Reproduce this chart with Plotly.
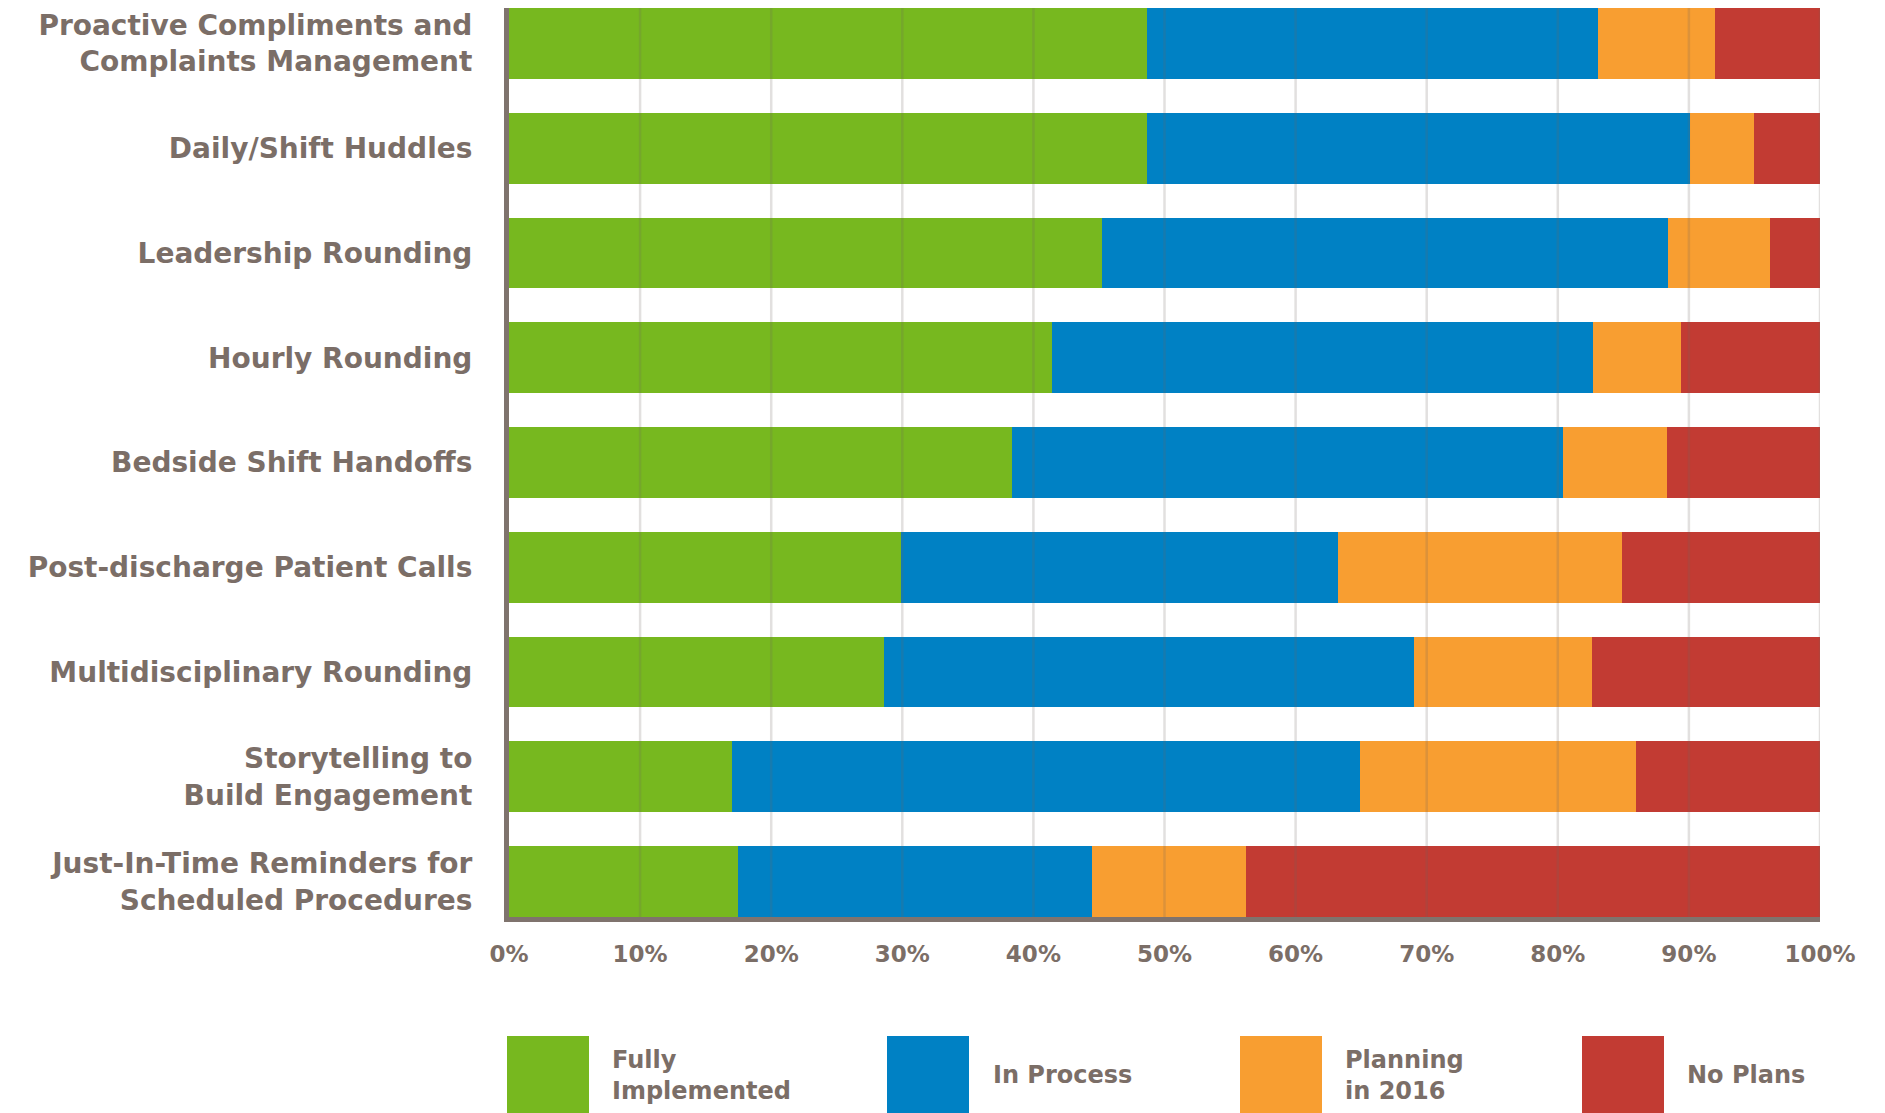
import plotly.graph_objects as go

categories = [
    "Proactive Compliments and<br>Complaints Management",
    "Daily/Shift Huddles",
    "Leadership Rounding",
    "Hourly Rounding",
    "Bedside Shift Handoffs",
    "Post-discharge Patient Calls",
    "Multidisciplinary Rounding",
    "Storytelling to<br>Build Engagement",
    "Just-In-Time Reminders for<br>Scheduled Procedures",
]
fully_implemented = [48.7, 48.7, 45.2, 41.4, 38.4, 29.9, 28.6, 17.0, 17.5]
in_process = [34.4, 41.4, 43.2, 41.3, 42.0, 33.3, 40.4, 47.9, 27.0]
planning_2016 = [8.9, 4.9, 7.8, 6.7, 7.9, 21.7, 13.6, 21.1, 11.7]
no_plans = [8.0, 5.0, 3.8, 10.6, 11.7, 15.1, 17.4, 14.0, 43.8]

series_names = ["Fully<br>Implemented", "In Process", "Planning<br>in 2016", "No Plans"]
series_values = [fully_implemented, in_process, planning_2016, no_plans]
colors = ["#77b81f", "#0081c4", "#f89e31", "#c23b33"]
x_ticks = list(range(0, 101, 10))
x_tick_labels = [f"{t}%" for t in x_ticks]

TEXT = "#7b6e67"
AXIS = "#7f736d"
FONT = "DejaVu Sans"

# page body adds an 8px offset
OFF = 8
W, H = 1885, 1113
L, R, T, B = 509 - OFF, 1885 - 1820 + OFF, 0, 1113 - 917 + OFF
bar_w = 0.675

fig = go.Figure()
for name, vals, col in zip(series_names, series_values, colors):
    fig.add_trace(go.Bar(
        y=categories, x=vals, orientation="h", name=name.replace("<br>", " "),
        marker=dict(color=col, line=dict(width=0)), showlegend=False,
    ))

# gridlines drawn over the bars (faint)
for t in x_ticks[1:]:
    fig.add_shape(type="line", xref="x", yref="paper", x0=t, x1=t, y0=0, y1=1,
                  line=dict(color="rgba(110,100,95,0.2)", width=2.5), layer="above")

# custom legend (positions given in screen pixels, converted to paper coords)
pw = W - L - R
ph = H - T - B
def px_to_paper_x(px):
    return (px - OFF - L) / pw
def px_to_paper_y(py):
    return (H - B - (py - OFF)) / ph

legend_box_left = [507, 887, 1240, 1582]
legend_text_left = [610, 991, 1343, 1685]
for name, col, bx, tx in zip(series_names, colors, legend_box_left, legend_text_left):
    fig.add_shape(type="rect", xref="paper", yref="paper",
                  x0=px_to_paper_x(bx), x1=px_to_paper_x(bx + 82),
                  y0=px_to_paper_y(1036), y1=px_to_paper_y(1130),
                  fillcolor=col, line=dict(width=0), layer="above")
    fig.add_annotation(xref="paper", yref="paper", x=px_to_paper_x(tx), y=px_to_paper_y(1075),
                       xanchor="left", yanchor="middle", align="left", showarrow=False,
                       text=name, font=dict(family=FONT, size=24, color=TEXT, weight="bold"))

fig.update_layout(
    width=W, height=H,
    margin=dict(l=L, r=R, t=T, b=B, autoexpand=False),
    barmode="stack", bargap=1 - bar_w,
    plot_bgcolor="white", paper_bgcolor="white",
    font=dict(family=FONT, color=TEXT),
)
fig.update_xaxes(
    range=[0, 100], tickvals=x_ticks, ticktext=x_tick_labels,
    showgrid=False, zeroline=False,
    showline=True, linecolor=AXIS, linewidth=5,
    ticks="", ticklabelstandoff=12,
    tickfont=dict(family=FONT, size=23, color=TEXT, weight="bold"),
)
fig.update_yaxes(
    type="category", categoryorder="array", categoryarray=categories,
    range=[len(categories) - 1 + bar_w / 2, -bar_w / 2],
    showgrid=False, zeroline=False,
    showline=True, linecolor=AXIS, linewidth=5,
    ticks="", ticklabelstandoff=26,
    tickfont=dict(family=FONT, size=28, color=TEXT, weight="bold"),
)

fig.write_html("out.html")
